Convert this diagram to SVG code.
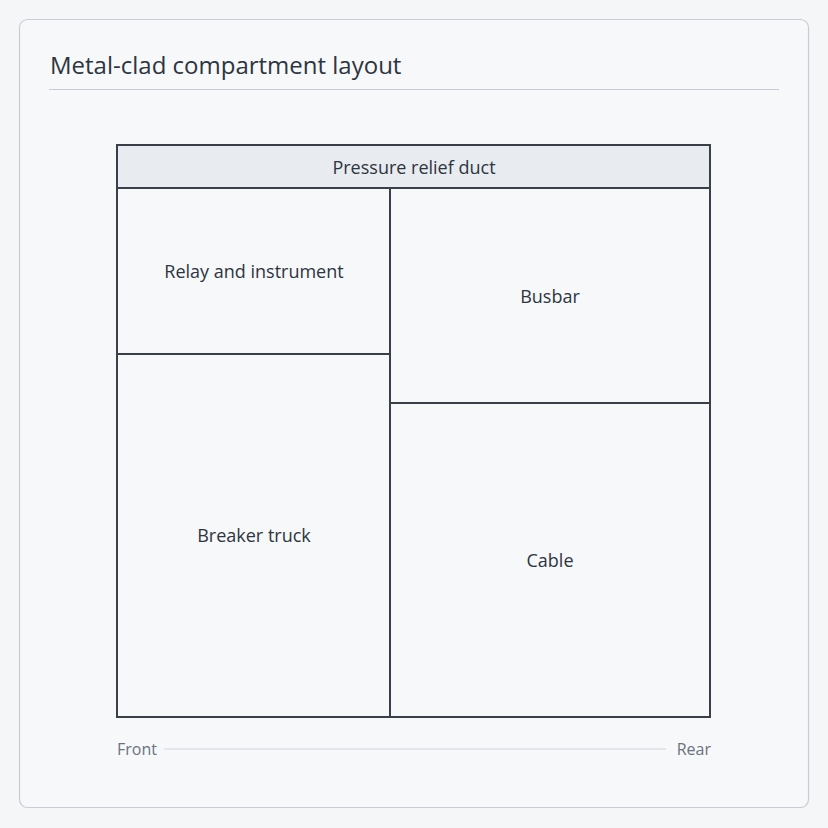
<svg xmlns="http://www.w3.org/2000/svg" width="828" height="828" viewBox="0 0 828 828">
<style>
.lbl{font-family:"Open Sans","Noto Sans",sans-serif;font-size:18px;fill:#2d3540;text-anchor:middle;dominant-baseline:central}
.cell{fill:none;stroke:#3a4049;stroke-width:2}
.ax{font-family:"Open Sans","Noto Sans",sans-serif;font-size:16px;fill:#6b7280;dominant-baseline:central}
</style>
<rect width="828" height="828" fill="#f4f6f8"/>
<rect x="19.5" y="19.5" width="789" height="788" rx="8" fill="#f6f8fa" stroke="#c8ccd4" stroke-width="1.2"/>
<text x="50" y="64" font-family="'Open Sans','Noto Sans',sans-serif" font-size="24" fill="#2d3540" dominant-baseline="central">Metal-clad compartment layout</text>
<line x1="49" y1="89.5" x2="779" y2="89.5" stroke="#c8ccd4" stroke-width="1.2"/>
<g id="duct"><rect x="117" y="145" width="593" height="43" class="cell" style="fill:#e8ebef"/><text class="lbl" x="414" y="167">Pressure relief duct</text></g>
<g id="relay"><rect class="cell" x="117" y="188" width="273" height="166"/><text class="lbl" x="254" y="271">Relay and instrument</text></g>
<g id="breaker"><rect class="cell" x="117" y="354" width="273" height="363"/><text class="lbl" x="254" y="535">Breaker truck</text></g>
<g id="busbar"><rect class="cell" x="390" y="188" width="320" height="215"/><text class="lbl" x="550" y="296">Busbar</text></g>
<g id="cable"><rect class="cell" x="390" y="403" width="320" height="314"/><text class="lbl" x="550" y="560">Cable</text></g>
<g id="axis">
<text class="ax" x="117" y="749">Front</text>
<line x1="164" y1="749" x2="666" y2="749" stroke="#d0d4da" stroke-width="1.2"/>
<text class="ax" x="711" y="749" text-anchor="end">Rear</text>
</g>
</svg>
